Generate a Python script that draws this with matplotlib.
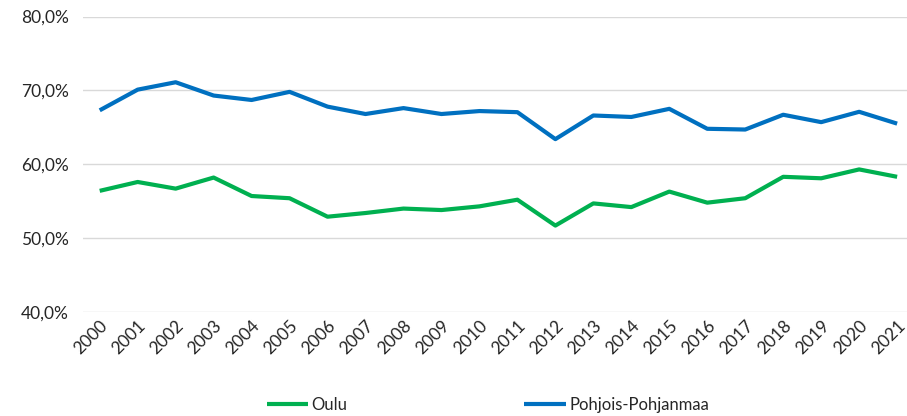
import matplotlib
matplotlib.use("Agg")
import matplotlib.pyplot as plt
from matplotlib.ticker import FuncFormatter, MultipleLocator

years = list(range(2000, 2022))
oulu = [56.4, 57.6, 56.7, 58.2, 55.7, 55.4, 52.9, 53.4, 54.0, 53.8, 54.3,
        55.2, 51.7, 54.7, 54.2, 56.3, 54.8, 55.4, 58.3, 58.1, 59.3, 58.3]
pp = [67.3, 70.1, 71.1, 69.3, 68.7, 69.8, 67.8, 66.8, 67.6, 66.8, 67.2,
      67.05, 63.4, 66.6, 66.4, 67.5, 64.8, 64.7, 66.7, 65.7, 67.1, 65.5]
series_names = ["Oulu", "Pohjois-Pohjanmaa"]
colors = ["#00B050", "#0070C0"]

plt.rcParams['font.family'] = ['Lato', 'DejaVu Sans']

fig = plt.figure(figsize=(9.07, 4.16), dpi=100)
W, H = 907, 416
ax = fig.add_axes([83 / W, 1 - 312 / H, (907 - 83) / W, (312 - 16.5) / H])

lines = []
for vals, name, c in zip([oulu, pp], series_names, colors):
    l, = ax.plot(years, vals, color=c, lw=3.0, label=name, solid_joinstyle='round', solid_capstyle='butt')
    lines.append(l)

ax.set_ylim(40, 80)
ax.set_xlim(2000 - 0.44, 2021 + 0.26)
ax.yaxis.set_major_locator(MultipleLocator(10))
ax.yaxis.set_major_formatter(FuncFormatter(lambda v, p: f"{v:.1f}%".replace('.', ',')))
ax.set_xticks(years)
ax.set_xticklabels([str(y) for y in years], rotation=45, ha='right', rotation_mode='anchor')
ax.grid(axis='y', color='#D9D9D9', lw=1.0)
ax.set_axisbelow(True)
for s in ax.spines.values():
    s.set_visible(False)
ax.tick_params(axis='both', length=0, labelsize=12.5, colors='#262626')
ax.tick_params(axis='y', pad=10)
ax.tick_params(axis='x', pad=4)

leg = fig.legend(handles=lines, labels=series_names, loc='center', ncol=2,
                 bbox_to_anchor=(488 / W, 1 - 405 / H), frameon=False,
                 fontsize=12, handlelength=2.5, handletextpad=0.2,
                 columnspacing=10.6, labelcolor='#262626')

fig.savefig("out.png", dpi=100)
